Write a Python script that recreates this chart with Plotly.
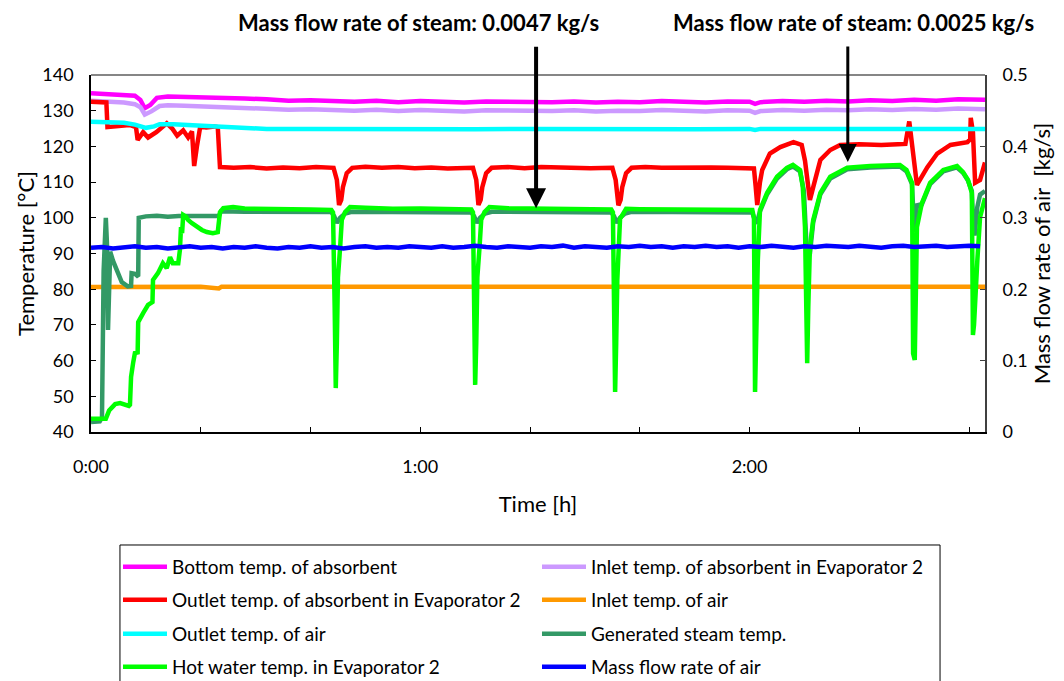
import plotly.graph_objects as go

# ---------------- data (time in minutes) ----------------
t_bottom = [0, 2, 4, 6, 8, 9, 9.8, 10.8, 12, 14, 17, 20, 24, 28, 32, 36, 40, 44, 48, 52, 56, 60, 64, 68, 72, 76, 80,
            84, 88, 92, 96, 100, 104, 108, 112, 116, 120, 121, 122, 126, 130, 134, 138, 142, 146, 150, 154, 158, 162.9]
v_bottom = [134.9, 134.8, 134.7, 134.5, 134.2, 133.0, 130.7, 131.6, 133.6, 134.0, 133.9, 133.7, 133.8, 133.4, 133.2,
            132.8, 132.9, 132.6, 132.5, 132.8, 132.4, 132.7, 132.5, 132.3, 132.6, 132.5, 132.7, 132.4, 132.6, 132.3,
            132.5, 132.4, 132.7, 132.5, 132.3, 132.6, 132.5, 131.9, 132.4, 132.7, 132.5, 132.8, 132.6, 132.9, 132.7,
            133.1, 132.8, 133.2, 133.1]

t_inlet_abs = [0, 2, 4, 6, 8, 9, 9.8, 11, 12.5, 14, 17, 20, 24, 28, 32, 36, 40, 44, 48, 52, 56, 60, 64, 68, 72, 76,
               80, 84, 88, 92, 96, 100, 104, 108, 112, 116, 120, 121, 122, 126, 130, 134, 138, 142, 146, 150, 154,
               158, 162.9]
v_inlet_abs = [132.8, 132.7, 132.6, 132.3, 131.8, 131.0, 128.9, 129.8, 131.3, 131.5, 131.4, 131.2, 131.0, 130.8,
               130.6, 130.3, 130.4, 130.1, 130.0, 130.3, 129.9, 130.2, 130.0, 129.8, 130.1, 130.0, 130.2, 129.9,
               130.1, 129.8, 130.0, 129.9, 130.2, 130.0, 129.8, 130.1, 130.0, 129.4, 129.9, 130.2, 130.0, 130.3,
               130.1, 130.4, 130.2, 130.5, 130.3, 130.6, 130.4]

t_outlet_abs = [0, 1.5, 2.8, 3.0, 5, 7, 8.2, 8.5, 9.5, 10.4, 11.9, 13.8, 14.8, 15.7, 16.8, 17.7, 18.4, 18.6, 18.8,
                19.3, 19.9, 21, 22.5, 23.1, 23.5, 26, 29, 32, 35, 38, 41, 44.2, 44.8, 45.2, 45.6, 45.9, 46.6, 47.6,
                50, 53, 56, 59, 62, 65, 68, 69.6, 70.2, 70.6, 71, 71.3, 72, 73, 76, 79, 82, 85, 88, 91, 95, 95.6,
                96.1, 96.5, 96.8, 97.5, 98.5, 101, 104, 107, 110, 113, 116, 119, 120.8, 121.1, 121.4, 121.9, 122.3,
                123.7, 125.6, 128, 129.5, 130.1, 131, 131.6, 132.9, 134.7, 136.5, 140, 144, 147, 148.4, 149.1,
                149.6, 150.5, 152.4, 154.2, 156.6, 159.7, 160.2, 160.3, 160.7, 161.1, 162, 162.9]
v_outlet_abs = [132.5, 132.4, 132.3, 125.4, 125.6, 126.0, 125.4, 121.8, 124.0, 122.5, 124.0, 126.5, 125.0, 123.0,
                124.5, 122.5, 124.2, 115.0, 114.5, 120.0, 125.5, 125.3, 125.6, 125.4, 114.2, 114.0, 114.2, 113.8,
                114.1, 113.9, 114.2, 114.0, 110.6, 103.6, 105.0, 108.6, 112.5, 114.0, 114.3, 114.0, 114.2, 113.9,
                114.1, 113.8, 114.1, 114.0, 110.6, 103.6, 105.0, 108.6, 112.5, 114.0, 114.2, 113.9, 114.2, 114.0,
                114.1, 113.9, 114.0, 110.6, 103.5, 105.0, 108.6, 112.5, 114.0, 114.2, 114.0, 114.1, 113.9, 114.1,
                114.0, 114.0, 113.8, 109.0, 103.6, 110.0, 113.4, 118.0, 119.8, 121.2, 120.4, 116.0, 105.0, 108.6,
                116.2, 119.0, 120.4, 120.6, 120.4, 120.6, 120.7, 127.0, 121.0, 109.2, 114.2, 118.0, 120.4, 121.2,
                122.0, 128.0, 124.0, 109.8, 110.6, 115.5]

t_inlet_air = [0, 10, 20, 23.3, 23.8, 40, 60, 80, 100, 120, 140, 162.9]
v_inlet_air = [80.6, 80.7, 80.7, 80.2, 80.7, 80.7, 80.7, 80.6, 80.7, 80.7, 80.7, 80.7]

t_outlet_air = [0, 3, 6, 8, 9, 10, 11.5, 12.5, 15, 18, 21, 25, 28, 32, 40, 50, 60, 70, 80, 90, 100, 110, 120, 121,
                122, 130, 140, 150, 162.9]
v_outlet_air = [126.9, 126.8, 126.6, 126.1, 125.6, 125.2, 125.6, 126.2, 126.2, 126.0, 125.7, 125.4, 125.1, 124.9,
                124.9, 124.8, 124.9, 124.8, 124.9, 124.8, 124.9, 124.8, 124.9, 124.6, 124.9, 124.8, 124.9, 124.9,
                124.9]

t_steam = [0, 1.6, 2.0, 2.3, 2.7, 2.9, 3.1, 3.3, 3.5, 4.0, 4.7, 5.6, 6.7, 7.3, 7.4, 8.0, 8.4, 8.6, 8.7, 10, 12, 14,
           16, 18, 20, 22, 23.3, 23.7, 28, 35, 43.8, 44.3, 44.8, 45.4, 46.3, 47.5, 55, 69.3, 69.8, 70.3, 70.9, 71.8,
           73, 85, 94.8, 95.3, 95.8, 96.4, 97.3, 98.5, 110, 120.5, 121.0, 121.3, 121.9, 123.2, 125, 126.8, 127.9,
           129.2, 129.9, 130.5, 131.0, 131.6, 132.9, 134.7, 137.8, 142, 147.4, 148.6, 149.6, 150.0, 150.5, 151.4,
           152.9, 155.3, 157.8, 158.9, 159.8, 160.5, 160.7, 161, 161.5, 162, 162.9]
v_steam = [42.8, 43.0, 44.0, 85.0, 100.0, 93.0, 68.6, 80.0, 90.5, 88.0, 85.5, 82.0, 80.8, 80.9, 84.5, 84.3, 83.8,
           84.0, 100.0, 100.4, 100.6, 100.3, 100.5, 100.6, 100.4, 100.5, 100.5, 101.8, 101.7, 101.6, 101.6, 100.5,
           98.6, 100.0, 101.2, 101.7, 101.6, 101.5, 100.5, 98.6, 100.0, 101.2, 101.7, 101.6, 101.5, 100.5, 98.6,
           100.0, 101.2, 101.7, 101.6, 101.5, 99.0, 98.5, 101.8, 106.6, 111.0, 113.6, 114.4, 113.0, 107.5, 88.0,
           90.0, 98.8, 106.6, 111.0, 113.6, 114.1, 114.4, 113.0, 109.4, 96.0, 103.5, 103.8, 109.4, 113.0, 114.1,
           112.6, 110.4, 107.5, 100.0, 95.0, 103.0, 106.5, 107.5]

t_hot = [0, 2.7, 3.3, 4.4, 5.3, 6.2, 6.9, 7.1, 7.3, 7.7, 8.0, 8.5, 8.6, 9.5, 10.4, 11.2, 11.3, 12.2, 13.1, 13.8, 14.4,
         14.9, 15.9, 16.2, 16.4, 16.6, 16.8, 17.3, 17.7, 18.4, 19.3, 20.2, 21.1, 22.2, 23.1, 23.5, 24.1, 25.9, 28, 32,
         36, 40, 43.8, 44.1, 44.4, 44.6, 44.8, 45.0, 45.4, 45.7, 46.3, 47.2, 50, 55, 60, 65, 69.3, 69.6, 69.8, 70.0,
         70.2, 70.4, 70.8, 71.1, 71.7, 72.6, 76, 80, 85, 90, 94.8, 95.1, 95.3, 95.5, 95.7, 95.9, 96.4, 97.5, 100, 105,
         110, 115, 120.5, 120.8, 121.0, 121.5, 121.9, 123.2, 125, 126.8, 127.9, 129.2, 129.7, 130.1, 130.5, 130.7,
         131.0, 131.6, 132.9, 134.7, 137.8, 142, 147.4, 148.6, 149.6, 149.8, 150.1, 150.5, 151.4, 152.9, 155.3,
         157.8, 158.9, 159.8, 160.5, 160.7, 160.9, 161.5, 162, 162.9]
v_hot = [43.7, 43.7, 46.0, 47.8, 48.1, 47.5, 47.3, 47.6, 55.4, 59.6, 62.1, 62.3, 70.8, 73.3, 75.6, 76.4, 82.6, 84.5,
         87.3, 85.9, 89.0, 87.3, 87.3, 91.0, 97.4, 95.7, 100.8, 100.3, 99.4, 98.5, 97.4, 96.6, 96.0, 95.7, 96.0,
         101.6, 102.7, 103.0, 102.6, 102.4, 102.5, 102.3, 102.2, 101.5, 75.0, 52.3, 65.0, 83.4, 91.8, 99.4, 101.6,
         103.0, 102.8, 102.5, 102.6, 102.4, 102.3, 101.5, 75.0, 53.2, 65.0, 83.4, 91.8, 99.4, 101.6, 103.0, 102.7,
         102.6, 102.5, 102.4, 102.3, 101.5, 75.0, 51.2, 65.0, 82.6, 99.7, 102.5, 102.4, 102.3, 102.4, 102.3, 102.2,
         100.0, 51.2, 88.0, 102.2, 107.0, 111.5, 114.0, 114.8, 113.4, 108.6, 97.4, 59.3, 75.0, 92.0, 99.4, 107.0,
         111.5, 114.0, 114.5, 114.8, 113.4, 109.8, 62.0, 60.2, 97.4, 104.1, 109.8, 113.4, 114.5, 112.8, 110.6,
         107.0, 67.2, 70.0, 88.0, 100.2, 105.5]

t_air_flow = [0, 2, 4, 6, 8, 10, 12, 14, 16, 18, 20, 22, 24, 26, 28, 30, 32, 34, 36, 38, 40, 42, 44, 46, 48, 50,
              52, 54, 56, 58, 60, 62, 64, 66, 68, 70, 72, 74, 76, 78, 80, 82, 84, 86, 88, 90, 92, 94, 96, 98, 100,
              102, 104, 106, 108, 110, 112, 114, 116, 118, 120, 122, 124, 126, 128, 130, 132, 134, 136, 138, 140,
              142, 144, 146, 148, 150, 152, 154, 156, 158, 160, 162]
v_air_flow = [0.258, 0.259, 0.257, 0.259, 0.260, 0.258, 0.259, 0.257, 0.258, 0.260,
              0.258, 0.259, 0.257, 0.259, 0.258, 0.260, 0.258, 0.257, 0.259, 0.258,
              0.260, 0.258, 0.259, 0.257, 0.259, 0.260, 0.258, 0.259, 0.258, 0.260,
              0.259, 0.258, 0.260, 0.258, 0.259, 0.261, 0.259, 0.258, 0.260, 0.259,
              0.258, 0.260, 0.259, 0.261, 0.258, 0.260, 0.259, 0.258, 0.260, 0.259,
              0.261, 0.259, 0.260, 0.258, 0.260, 0.259, 0.261, 0.259, 0.260, 0.258,
              0.260, 0.259, 0.261, 0.260, 0.258, 0.260, 0.259, 0.261, 0.260, 0.259,
              0.261, 0.260, 0.258, 0.260, 0.261, 0.259, 0.260, 0.261, 0.259, 0.260,
              0.261, 0.260]

x_tickvals = [0, 20, 40, 60, 80, 100, 120, 140, 160]
x_ticktext = ["0:00", "", "", "1:00", "", "", "2:00", "", ""]

annotation_texts = ["Mass flow rate of steam: 0.0047 kg/s", "Mass flow rate of steam: 0.0025 kg/s"]
arrow_tips = [(81.1, 102.7), (137.9, 115.6)]

FONT = "Lato, 'Open Sans', sans-serif"

fig = go.Figure()

series = [
    ("Bottom temp. of absorbent", t_bottom, v_bottom, "#FF00FF", "y", "legend", 1),
    ("Inlet temp. of absorbent in Evaporator 2", t_inlet_abs, v_inlet_abs, "#CC99FF", "y", "legend", 2),
    ("Outlet temp. of absorbent in Evaporator 2", t_outlet_abs, v_outlet_abs, "#FF0000", "y", "legend2", 3),
    ("Inlet temp. of air", t_inlet_air, v_inlet_air, "#FF9900", "y", "legend2", 4),
    ("Outlet temp. of air", t_outlet_air, v_outlet_air, "#00FFFF", "y", "legend3", 5),
    ("Generated steam temp.", t_steam, v_steam, "#339966", "y", "legend3", 6),
    ("Hot water temp. in Evaporator 2", t_hot, v_hot, "#00FF00", "y", "legend4", 7),
    ("Mass flow rate of air", t_air_flow, v_air_flow, "#0000FF", "y2", "legend4", 8),
]
for name, tx, vy, col, yax, leg, rank in series:
    fig.add_trace(go.Scatter(x=tx, y=vy, mode="lines", name=name, yaxis=yax, legend=leg,
                             legendrank=rank, line=dict(color=col, width=4.5)))

legend_common = dict(orientation="h", entrywidth=360, entrywidthmode="pixels", itemwidth=44,
                     bgcolor="rgba(0,0,0,0)", borderwidth=0, xanchor="left", yanchor="middle",
                     font=dict(family=FONT, size=19, color="#000000"), x=0.0302)

# the page adds an 8 px body margin, margins are compensated so the plot area sits at
# x 91..985, y 75..432 in the window
fig.update_layout(
    width=1064, height=681,
    margin=dict(l=83, r=87, t=67, b=257, autoexpand=False),
    paper_bgcolor="white", plot_bgcolor="white",
    font=dict(family=FONT, size=18, color="#000000"),
    showlegend=True,
    legend=dict(legend_common, y=-0.378),
    legend2=dict(legend_common, y=-0.4706),
    legend3=dict(legend_common, y=-0.5658),
    legend4=dict(legend_common, y=-0.6583),
    xaxis=dict(range=[0, 162.9], tickmode="array", tickvals=x_tickvals, ticktext=x_ticktext,
               ticks="inside", ticklen=5, tickcolor="#000000", showline=True, linecolor="#000000",
               linewidth=1.5, showgrid=False, zeroline=False, ticklabelstandoff=18,
               title=dict(text="Time [h]", standoff=20), tickfont=dict(size=18)),
    yaxis=dict(range=[40, 140], dtick=10, ticks="inside", ticklen=5, tickcolor="#000000",
               showline=True, linecolor="#000000", linewidth=1.5, showgrid=False, zeroline=False,
               ticklabelstandoff=12, title=dict(text="Temperature [°C]", standoff=2), tickfont=dict(size=18)),
    yaxis2=dict(range=[0, 0.5], dtick=0.1, overlaying="y", side="right", ticks="inside", ticklen=5,
                tickcolor="#404040", showline=True, linecolor="#404040", linewidth=2, showgrid=False,
                zeroline=False, ticklabelstandoff=12, tickformat="~g",
                title=dict(text="Mass flow rate of air  [kg/s]", standoff=6), tickfont=dict(size=18)),
)

# top border of plot area (gray) and legend box
fig.add_shape(type="line", xref="paper", yref="paper", x0=0, x1=1, y0=1, y1=1,
              line=dict(color="#868686", width=2))
fig.add_shape(type="rect", xref="paper", yref="paper", x0=0.0324, x1=0.9497, y0=-0.3165, y1=-0.8,
              line=dict(color="#000000", width=1), fillcolor="rgba(0,0,0,0)")

# annotation texts
fig.add_annotation(text="<b>" + annotation_texts[0] + "</b>", xref="paper", yref="paper",
                   x=(418 - 91) / 894, y=(432 - 22) / 357, showarrow=False,
                   font=dict(family=FONT, size=22, color="#000000"), xanchor="center", yanchor="middle")
fig.add_annotation(text="<b>" + annotation_texts[1] + "</b>", xref="paper", yref="paper",
                   x=(853 - 91) / 894, y=(432 - 22) / 357, showarrow=False,
                   font=dict(family=FONT, size=22, color="#000000"), xanchor="center", yanchor="middle")

# arrows
fig.add_annotation(x=arrow_tips[0][0], y=arrow_tips[0][1], xref="x", yref="y", text="", showarrow=True,
                   ax=0, ay=-163, arrowhead=2, arrowsize=1, arrowwidth=4, arrowcolor="#000000")
fig.add_annotation(x=arrow_tips[1][0], y=arrow_tips[1][1], xref="x", yref="y", text="", showarrow=True,
                   ax=0, ay=-117, arrowhead=2, arrowsize=1.2, arrowwidth=3, arrowcolor="#000000")

fig.write_html("out.html")
